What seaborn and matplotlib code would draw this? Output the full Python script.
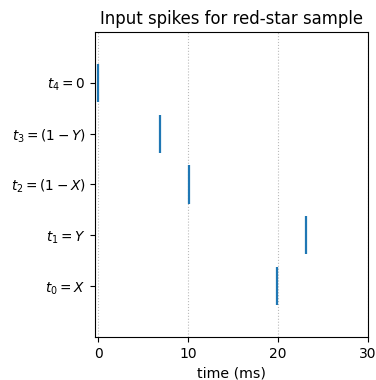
import numpy as np
import matplotlib
matplotlib.use("Agg")
import matplotlib.pyplot as plt
import seaborn as sns

# spike times (ms) per input neuron, t0..t4
spike_times = [19.9, 23.15, 10.1, 6.85, 0.0]
labels = [r'$t_0 = X$', r'$t_1 = Y$', r'$t_2 = (1 - X)$', r'$t_3 = (1 - Y)$', r'$t_4 = 0$']
xticks = [0, 10, 20, 30]

sns.set_style("white")
plt.rcParams['font.family'] = ['DejaVu Sans']
plt.rcParams['axes.edgecolor'] = 'black'
plt.rcParams['text.color'] = 'black'
plt.rcParams['axes.labelcolor'] = 'black'
plt.rcParams['xtick.color'] = 'black'
plt.rcParams['ytick.color'] = 'black'

fig = plt.figure(figsize=(3.76, 3.8), dpi=100)
ax = fig.add_axes([0.253, 0.113, 0.726, 0.803])

color = sns.color_palette()[0]
ax.eventplot([[t] for t in spike_times], lineoffsets=list(range(len(spike_times))),
             linelengths=0.75, linewidths=1.6, colors=[color] * len(spike_times))

ax.set_yticks(range(len(labels)))
ax.set_yticklabels(labels, fontsize=9.8)
ax.set_xticks(xticks)
ax.set_xticklabels([str(v) for v in xticks], fontsize=10)
ax.set_xlim(-0.35, 30)
ax.set_ylim(-1, 5)
ax.tick_params(axis='both', length=3.5, width=0.8, color='black', left=True, bottom=True)
ax.xaxis.grid(True, linestyle=':', linewidth=0.8, color='#bbbbbb')
ax.yaxis.grid(False)
for s in ax.spines.values():
    s.set_linewidth(0.8)
    s.set_color('black')

ax.set_xlabel('time (ms)', fontsize=10.2)
ax.set_title('Input spikes for red-star sample', fontsize=11.9)

fig.savefig('out.png', dpi=100)
